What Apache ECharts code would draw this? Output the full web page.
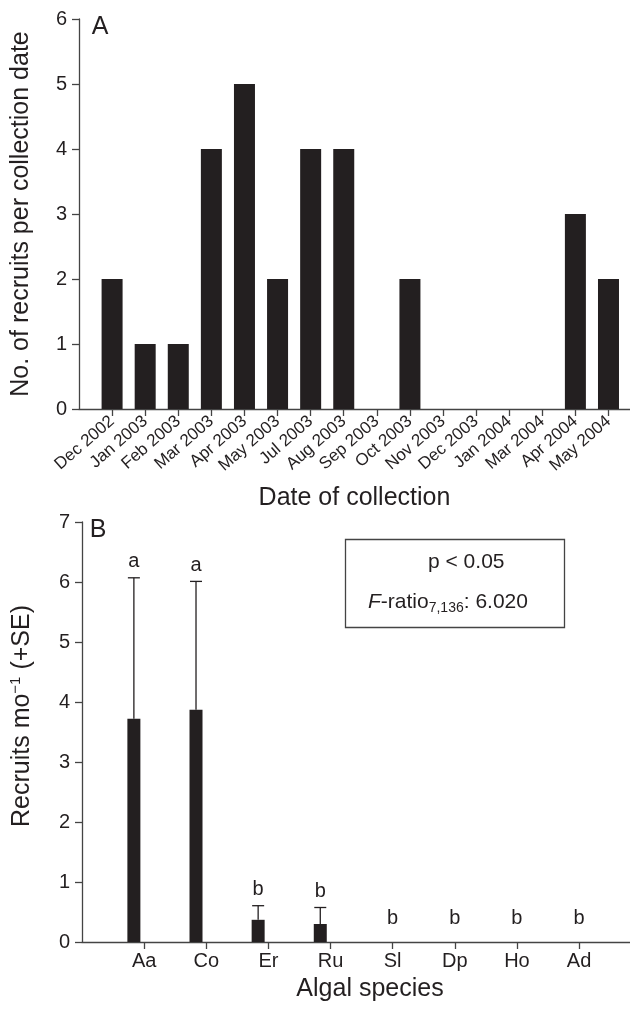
<!DOCTYPE html>
<html>
<head>
<meta charset="utf-8">
<script src="https://cdn.jsdelivr.net/npm/echarts@6/dist/echarts.min.js"></script>
<style>
html, body { margin: 0; padding: 0; background: #fff; }
#main { width: 630px; height: 1011px; }
</style>
</head>
<body>
<div id="main"></div>
<script>
// panel A: recruits per collection date
var dates = ['Dec 2002', 'Jan 2003', 'Feb 2003', 'Mar 2003', 'Apr 2003', 'May 2003', 'Jul 2003', 'Aug 2003',
  'Sep 2003', 'Oct 2003', 'Nov 2003', 'Dec 2003', 'Jan 2004', 'Mar 2004', 'Apr 2004', 'May 2004'];
var recruits = [2, 1, 1, 4, 5, 2, 4, 4, 0, 2, 0, 0, 0, 0, 3, 2];

// panel B: recruits per month by algal species
var species = ['Aa', 'Co', 'Er', 'Ru', 'Sl', 'Dp', 'Ho', 'Ad'];
var meanRecruits = [3.72, 3.87, 0.37, 0.30, 0, 0, 0, 0];
var seRecruits = [2.35, 2.14, 0.235, 0.275, 0, 0, 0, 0];
var groups = ['a', 'a', 'b', 'b', 'b', 'b', 'b', 'b'];

var ink = '#231f20';
var axisCol = '#444';
var font = 'Liberation Sans';
var barShift = -0.165; // bars in B sit left of their tick

var myChart = echarts.init(document.getElementById('main'));

function tickPos(arr) {
  return arr.map(function (d, i) { return i + 1; });
}

var option = {
  animation: false,
  textStyle: { fontFamily: font, color: ink },
  grid: [
    { left: 79, right: 0, top: 19, height: 390 },
    { left: 79, right: 0, top: 522, height: 420 }
  ],
  xAxis: [
    {
      gridIndex: 0,
      type: 'value',
      min: 0,
      max: dates.length + 0.65,
      splitLine: { show: false },
      axisLine: { show: true, lineStyle: { color: axisCol, width: 1.3 } },
      axisTick: { show: true, customValues: tickPos(dates), length: 7, lineStyle: { color: axisCol, width: 1.3 } },
      axisLabel: {
        customValues: tickPos(dates),
        rotate: 41,
        margin: 10,
        fontSize: 17,
        color: ink,
        formatter: function (v) { return dates[Math.round(v) - 1] || ''; }
      },
      name: 'Date of collection',
      nameLocation: 'middle',
      nameGap: 77,
      nameTextStyle: { fontSize: 25, color: ink }
    },
    {
      gridIndex: 1,
      type: 'value',
      min: 0,
      max: species.length + 0.82,
      splitLine: { show: false },
      axisLine: { show: true, lineStyle: { color: axisCol, width: 1.3 } },
      axisTick: { show: true, customValues: tickPos(species), length: 7, lineStyle: { color: axisCol, width: 1.3 } },
      axisLabel: {
        customValues: tickPos(species),
        margin: 9,
        fontSize: 20,
        color: ink,
        formatter: function (v) { return species[Math.round(v) - 1] || ''; }
      },
      name: 'Algal species',
      nameLocation: 'middle',
      nameGap: 35,
      nameTextStyle: { fontSize: 25, color: ink, padding: [0, 0, 0, 28] }
    }
  ],
  yAxis: [
    {
      gridIndex: 0,
      type: 'value',
      min: 0,
      max: 6,
      interval: 1,
      splitLine: { show: false },
      axisLine: { show: true, lineStyle: { color: axisCol, width: 1.3 } },
      axisTick: { show: true, length: 7, lineStyle: { color: axisCol, width: 1.3 } },
      axisLabel: { fontSize: 20, margin: 12, color: ink },
      name: 'No. of recruits per collection date',
      nameLocation: 'middle',
      nameGap: 45,
      nameTextStyle: { fontSize: 25, color: ink }
    },
    {
      gridIndex: 1,
      type: 'value',
      min: 0,
      max: 7,
      interval: 1,
      splitLine: { show: false },
      axisLine: { show: true, lineStyle: { color: axisCol, width: 1.3 } },
      axisTick: { show: true, length: 7, lineStyle: { color: axisCol, width: 1.3 } },
      axisLabel: { fontSize: 20, margin: 12, color: ink },
      name: '{n|Recruits mo}{sup|−1}{n| (+SE)}',
      nameLocation: 'middle',
      nameGap: 45,
      nameTextStyle: {
        fontSize: 25,
        color: ink,
        padding: [0, 0, 0, 32],
        rich: {
          n: { fontSize: 25, fontFamily: font, color: ink },
          sup: { fontSize: 15, fontFamily: font, color: ink, padding: [0, 0, 14, 0] }
        }
      }
    }
  ],
  series: [
    {
      type: 'bar',
      xAxisIndex: 0,
      yAxisIndex: 0,
      barWidth: 21,
      itemStyle: { color: ink },
      data: recruits.map(function (v, i) { return [i + 1, v]; })
    },
    {
      type: 'bar',
      xAxisIndex: 1,
      yAxisIndex: 1,
      barWidth: 13,
      itemStyle: { color: ink },
      data: meanRecruits.map(function (v, i) { return [i + 1 + barShift, v]; })
    },
    {
      // error bars and significance letters
      type: 'custom',
      xAxisIndex: 1,
      yAxisIndex: 1,
      encode: { x: 0, y: 1 },
      data: species.map(function (s, i) { return [i + 1, meanRecruits[i], seRecruits[i], i]; }),
      renderItem: function (params, api) {
        var i = api.value(3);
        var mean = api.value(1);
        var se = api.value(2);
        var hasBar = mean > 0;
        var x = hasBar ? i + 1 + barShift : i + 1;
        var base = api.coord([x, 0]);
        var top = api.coord([x, mean + se]);
        var children = [];
        if (hasBar) {
          var barTop = api.coord([x, mean]);
          children.push({
            type: 'line',
            shape: { x1: top[0], y1: barTop[1], x2: top[0], y2: top[1] },
            style: { stroke: ink, lineWidth: 1.3 }
          });
          children.push({
            type: 'line',
            shape: { x1: top[0] - 6, y1: top[1], x2: top[0] + 6, y2: top[1] },
            style: { stroke: ink, lineWidth: 1.3 }
          });
        }
        children.push({
          type: 'text',
          x: top[0],
          y: hasBar ? top[1] - 16 : base[1] - 24,
          style: {
            text: groups[i],
            fontSize: 20,
            fontFamily: font,
            fill: ink,
            align: 'center',
            verticalAlign: 'middle'
          }
        });
        return { type: 'group', children: children };
      }
    }
  ],
  graphic: {
    elements: [
      {
        type: 'text', x: 100, y: 27,
        style: { text: 'A', fontSize: 25, fontFamily: font, fill: ink, align: 'center', verticalAlign: 'middle' }
      },
      {
        type: 'text', x: 98, y: 530,
        style: { text: 'B', fontSize: 25, fontFamily: font, fill: ink, align: 'center', verticalAlign: 'middle' }
      },
      {
        type: 'rect',
        shape: { x: 345.5, y: 539.5, width: 219, height: 88 },
        style: { fill: '#fff', stroke: axisCol, lineWidth: 1.3 }
      },
      {
        type: 'text', x: 428, y: 562,
        style: { text: 'p < 0.05', fontSize: 21, fontFamily: font, fill: ink, align: 'left', verticalAlign: 'middle' }
      },
      {
        type: 'text', x: 368, y: 602,
        style: {
          text: '{i|F}-ratio{s|7,136}: 6.020',
          fontSize: 21,
          fontFamily: font,
          fill: ink,
          align: 'left',
          verticalAlign: 'middle',
          rich: {
            i: { fontSize: 21, fontStyle: 'italic', fontFamily: font, fill: ink },
            s: { fontSize: 14, fontFamily: font, fill: ink, padding: [12, 0, 0, 0] }
          }
        }
      }
    ]
  }
};

myChart.setOption(option);
</script>
</body>
</html>
